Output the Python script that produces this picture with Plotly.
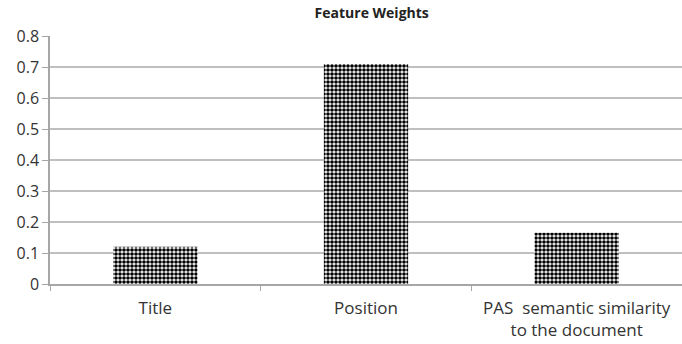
import plotly.graph_objects as go

categories = ["Title", "Position", "PAS  semantic similarity<br>to the document"]
weights = [0.12, 0.71, 0.165]
y_ticks = [0, 0.1, 0.2, 0.3, 0.4, 0.5, 0.6, 0.7, 0.8]
y_labels = ["0", "0.1", "0.2", "0.3", "0.4", "0.5", "0.6", "0.7", "0.8"]

fig = go.Figure(go.Bar(
    x=categories, y=weights,
    marker=dict(color="white", line=dict(width=0),
                pattern=dict(shape=".", fgcolor="black", bgcolor="white",
                             size=4, solidity=0.65, fillmode="replace")),
))

font_family = "'Open Sans', sans-serif"
fig.update_layout(
    width=682, height=344,
    margin=dict(l=50, r=0, t=36, b=60),
    paper_bgcolor="white", plot_bgcolor="white",
    bargap=0.6,
    showlegend=False,
    title=dict(text="<b>Feature Weights</b>", x=0.545, xanchor="center",
               y=0.962, yanchor="middle", pad=dict(t=0),
               font=dict(family=font_family, size=14, color="#222")),
    font=dict(family=font_family, size=14, color="#333"),
)
fig.update_xaxes(
    type="category", tickson="boundaries", ticks="outside", ticklen=5,
    tickcolor="#A6A6A6", showline=True, linecolor="#A6A6A6", linewidth=1.5,
    tickfont=dict(size=17, color="#333"), showgrid=False,
    ticklabelstandoff=8,
)
fig.update_yaxes(
    range=[0, 0.8], tickvals=y_ticks, ticktext=y_labels,
    ticks="outside", ticklen=6, tickcolor="#A6A6A6",
    showline=True, linecolor="#A6A6A6", linewidth=1.5,
    showgrid=True, gridcolor="#BFBFBF", gridwidth=1.5,
    zeroline=False, tickfont=dict(size=16, color="#333"),
)

fig.write_html("out.html", config={"displayModeBar": False},
               post_script="document.body.style.margin='0';")
